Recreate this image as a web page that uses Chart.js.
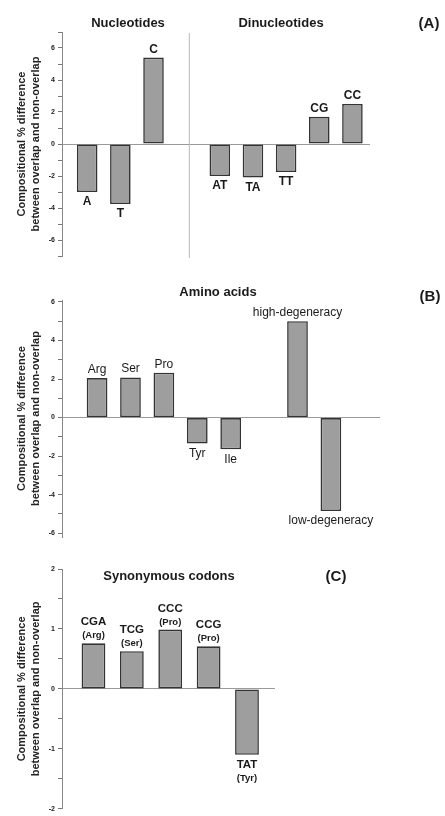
<!DOCTYPE html>
<html>
<head>
<meta charset="utf-8">
<script src="https://cdn.jsdelivr.net/npm/chart.js@4.4.1/dist/chart.umd.min.js"></script>
<style>
  html, body { margin: 0; padding: 0; background: #fff; }
  #page { position: relative; width: 445px; height: 816px; overflow: hidden;
          font-family: 'Liberation Sans', Arial, sans-serif; color: #1a1a1a; }
  .panel { position: absolute; left: 0; width: 445px; }
  .txt { position: absolute; transform: translate(-50%, -50%); font-weight: bold; white-space: nowrap; }
  .head { font-size: 13px; }
  .tag { font-size: 15px; }
</style>
</head>
<body>
<div id="page">
  <div class="panel" style="top:0;height:270px"><canvas id="chartA"></canvas></div>
  <div class="panel" style="top:270px;height:290px"><canvas id="chartB"></canvas></div>
  <div class="panel" style="top:550px;height:266px"><canvas id="chartC"></canvas></div>

  <div class="txt head" style="left:128px;top:22px">Nucleotides</div>
  <div class="txt head" style="left:281px;top:22px">Dinucleotides</div>
  <div class="txt tag" style="left:429px;top:22px">(A)</div>

  <div class="txt head" style="left:218px;top:291px">Amino acids</div>
  <div class="txt tag" style="left:430px;top:295px">(B)</div>

  <div class="txt head" style="left:169px;top:575px">Synonymous codons</div>
  <div class="txt tag" style="left:336px;top:575px">(C)</div>
</div>
<script>
// (A) nucleotides, empty slot, dinucleotides
const nucLabels = ['A', 'T', 'C', '', 'AT', 'TA', 'TT', 'CG', 'CC'];
const nucValues = [-3.0, -3.75, 5.4, null, -2.0, -2.1, -1.75, 1.7, 2.5];

// (B) amino acids, empty slot, degeneracy classes
const aaLabels = ['Arg', 'Ser', 'Pro', 'Tyr', 'Ile', '', 'high-degeneracy', 'low-degeneracy'];
const aaValues = [2.05, 2.08, 2.33, -1.35, -1.65, null, 5.0, -4.85];

// (C) synonymous codons
const codonLabels = ['CGA', 'TCG', 'CCC', 'CCG', 'TAT'];
const codonAminos = ['(Arg)', '(Ser)', '(Pro)', '(Pro)', '(Tyr)'];
const codonValues = [0.76, 0.63, 0.99, 0.71, -1.1];

const yTitle = ['Compositional % difference', 'between overlap and non-overlap'];

Chart.defaults.font.family = "'Liberation Sans', Arial, sans-serif";
Chart.defaults.color = '#1a1a1a';

const near = (v, step) => Math.abs(v / step - Math.round(v / step)) < 1e-6;

function yAxis(min, max, step, labelStep) {
  return {
    min: min,
    max: max,
    afterFit: s => { s.width = 62; },
    // ticks only on whole steps, even when the axis runs a little past them
    afterBuildTicks: s => {
      const ticks = [];
      for (let v = Math.ceil(min / step - 1e-9) * step; v <= max + 1e-9; v += step) {
        ticks.push({ value: Math.round(v * 1000) / 1000 });
      }
      s.ticks = ticks;
    },
    ticks: {
      stepSize: step,
      autoSkip: false,
      padding: 3,
      color: '#222',
      font: { size: 7, weight: 'bold' },
      callback: v => near(v, labelStep) ? String(Math.round(v)) : ''
    },
    grid: {
      drawOnChartArea: true,
      color: c => (c.tick && Math.abs(c.tick.value) < 1e-9) ? '#9a9a9a' : 'rgba(0,0,0,0)',
      tickColor: '#777',
      tickLength: 4,
      lineWidth: 1
    },
    border: { display: true, color: '#888', width: 1 },
    title: {
      display: true,
      text: yTitle,
      color: '#222',
      font: { size: 11, weight: 'bold', lineHeight: 1.27 },
      padding: { top: 15, bottom: 0 }
    }
  };
}

// labels at the end of each bar, above positive bars and below negative ones
function barText(rows, fonts) {
  return {
    id: 'barText',
    afterDatasetsDraw(chart) {
      const ctx = chart.ctx;
      const pts = chart.data.datasets[0].data;
      ctx.save();
      ctx.fillStyle = '#1a1a1a';
      ctx.textAlign = 'center';
      ctx.textBaseline = 'alphabetic';
      chart.getDatasetMeta(0).data.forEach((bar, i) => {
        const v = pts[i].y;
        if (v === null) return;
        if (v >= 0) {
          let y = bar.y - 5;
          for (let r = rows.length - 1; r >= 0; r--) {
            ctx.font = fonts[r];
            ctx.fillText(rows[r][i], bar.x, y);
            y -= 13;
          }
        } else {
          let y = bar.y + 5 + 8.4;
          for (let r = 0; r < rows.length; r++) {
            ctx.font = fonts[r];
            ctx.fillText(rows[r][i], bar.x, y);
            y += 13;
          }
        }
      });
      ctx.restore();
    }
  };
}

const divider = {
  id: 'divider',
  beforeDatasetsDraw(chart) {
    const ctx = chart.ctx;
    const x = chart.scales.x.getPixelForValue(nucLabels.indexOf('') + 1.08);
    ctx.save();
    ctx.strokeStyle = '#b8b8b8';
    ctx.lineWidth = 1;
    ctx.beginPath();
    ctx.moveTo(x, chart.chartArea.top + 1);
    ctx.lineTo(x, chart.chartArea.bottom + 2);
    ctx.stroke();
    ctx.restore();
  }
};

function makeChart(id, values, xMin, xMax, yScale, padding, plugins) {
  return new Chart(document.getElementById(id), {
    type: 'bar',
    data: {
      datasets: [{
        data: values.map((v, i) => ({ x: i + 1, y: v })),
        backgroundColor: '#9e9e9e',
        borderColor: '#333',
        borderWidth: 1.6,
        borderSkipped: false,
        barPercentage: 0.62,
        categoryPercentage: 1
      }]
    },
    options: {
      responsive: true,
      maintainAspectRatio: false,
      animation: false,
      layout: { padding: padding },
      plugins: { legend: { display: false }, tooltip: { enabled: false } },
      scales: {
        x: { type: 'linear', min: xMin, max: xMax, offset: false, display: false },
        y: yScale
      }
    },
    plugins: plugins
  });
}

makeChart('chartA', nucValues, 0.24, 9.53, yAxis(-7, 7, 1, 2),
  { top: 32, bottom: 14, left: 0, right: 75 },
  [divider, barText([nucLabels], ['bold 12px "Liberation Sans", Arial, sans-serif'])]);

makeChart('chartB', aaValues, -0.05, 9.47, yAxis(-6.2, 6.1, 1, 2),
  { top: 30, bottom: 23, left: 0, right: 65 },
  [barText([aaLabels], ['12px "Liberation Sans", Arial, sans-serif'])]);

makeChart('chartC', codonValues, 0.18, 5.73, yAxis(-2, 2, 0.5, 1),
  { top: 19, bottom: 4, left: 0, right: 170 },
  [barText([codonLabels, codonAminos],
    ['bold 11.5px "Liberation Sans", Arial, sans-serif', 'bold 9.5px "Liberation Sans", Arial, sans-serif'])]);
</script>
</body>
</html>
